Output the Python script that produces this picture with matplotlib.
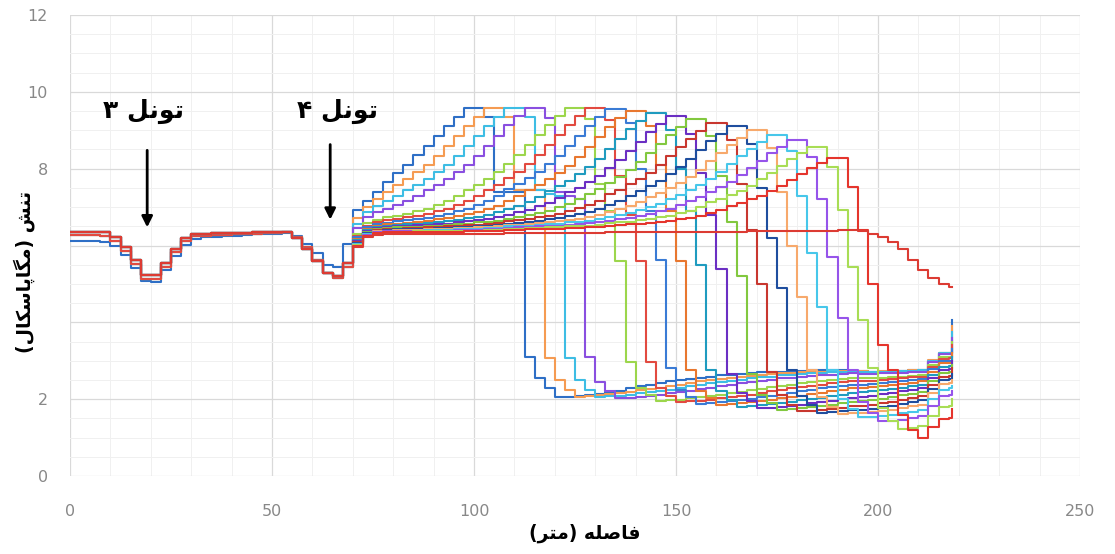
import numpy as np
import matplotlib.pyplot as plt

# mesh positions along the route (m)
x_head = np.arange(0, 70, 2.5)                      # shared part 0 - 67.5
x_tail = np.append(np.arange(70, 218, 2.5), 218.3)  # 70 - 217.5 and last node

# stress over the shared part (tunnel 3 and tunnel 4 dips)
base_red = [6.36, 6.36, 6.36, 6.35, 6.22, 5.95, 5.62, 5.22, 5.22, 5.55,
            5.92, 6.2, 6.3, 6.31, 6.32, 6.32, 6.33, 6.33, 6.34, 6.35,
            6.35, 6.36, 6.2, 5.92, 5.6, 5.28, 5.2, 5.55]
base_mid = [6.27, 6.27, 6.27, 6.26, 6.12, 5.86, 5.52, 5.14, 5.12, 5.45,
            5.82, 6.12, 6.24, 6.26, 6.27, 6.28, 6.29, 6.3, 6.31, 6.32,
            6.33, 6.34, 6.22, 5.95, 5.62, 5.28, 5.16, 5.45]
base_blue = [6.12, 6.12, 6.12, 6.1, 5.98, 5.74, 5.42, 5.08, 5.06, 5.36,
             5.72, 6.02, 6.17, 6.21, 6.23, 6.25, 6.26, 6.28, 6.29, 6.3,
             6.31, 6.32, 6.25, 6.05, 5.8, 5.5, 5.45, 6.05]

# stress from x = 70 on, one list per excavation stage
stage_01 = [6.93, 7.15, 7.4, 7.65, 7.9, 8.1, 8.35, 8.6, 8.85, 9.1,
            9.35, 9.58, 9.58, 9.35, 7.4, 7.4, 7.4, 3.1, 2.55, 2.29,
            2.06, 2.06, 2.08, 2.1, 2.14, 2.18, 2.22, 2.28, 2.33, 2.38,
            2.42, 2.46, 2.5, 2.53, 2.56, 2.59, 2.62, 2.64, 2.66, 2.68,
            2.7, 2.71, 2.72, 2.73, 2.74, 2.75, 2.76, 2.76, 2.75, 2.74,
            2.73, 2.72, 2.72, 2.73, 2.74, 2.75, 2.76, 3.0, 3.2, 3.2, 4.06]
stage_02 = [6.72, 7.0, 7.2, 7.4, 7.58, 7.74, 7.91, 8.1, 8.33, 8.6,
            8.86, 9.12, 9.35, 9.58, 9.58, 9.35, 7.45, 7.45, 7.45, 3.07,
            2.5, 2.24, 2.06, 2.08, 2.1, 2.13, 2.16, 2.19, 2.23, 2.26,
            2.3, 2.34, 2.38, 2.42, 2.46, 2.49, 2.52, 2.55, 2.58, 2.6,
            2.63, 2.65, 2.67, 2.68, 2.7, 2.71, 2.72, 2.73, 2.74, 2.74,
            2.73, 2.72, 2.73, 2.73, 2.74, 2.75, 2.76, 3.01, 3.21, 3.21, 3.9]
stage_03 = [6.56, 6.88, 7.03, 7.15, 7.28, 7.45, 7.58, 7.74, 7.91, 8.1,
            8.33, 8.6, 8.86, 9.12, 9.35, 9.58, 9.58, 9.35, 7.45, 7.35,
            7.3, 3.07, 2.5, 2.25, 2.05, 2.07, 2.09, 2.12, 2.15, 2.18,
            2.22, 2.25, 2.29, 2.33, 2.37, 2.41, 2.45, 2.48, 2.51, 2.54,
            2.57, 2.59, 2.62, 2.64, 2.66, 2.67, 2.69, 2.7, 2.71, 2.72,
            2.71, 2.71, 2.71, 2.72, 2.73, 2.74, 2.75, 3.0, 3.2, 3.2, 3.75]
stage_04 = [6.45, 6.74, 6.87, 6.96, 7.05, 7.15, 7.28, 7.45, 7.58, 7.74,
            7.91, 8.1, 8.33, 8.6, 8.86, 9.14, 9.37, 9.58, 9.58, 9.33,
            7.4, 7.3, 7.2, 3.1, 2.45, 2.2, 2.02, 2.04, 2.06, 2.09,
            2.12, 2.15, 2.19, 2.22, 2.26, 2.3, 2.34, 2.38, 2.42, 2.45,
            2.48, 2.51, 2.54, 2.56, 2.59, 2.61, 2.63, 2.64, 2.66, 2.67,
            2.66, 2.66, 2.67, 2.68, 2.69, 2.7, 2.72, 2.97, 3.17, 3.17, 3.6]
stage_05 = [6.3, 6.58, 6.67, 6.73, 6.78, 6.82, 6.89, 6.96, 7.05, 7.15,
            7.28, 7.45, 7.58, 7.74, 7.91, 8.12, 8.35, 8.62, 8.88, 9.14,
            9.37, 9.58, 9.58, 9.3, 7.6, 6.9, 5.6, 2.97, 2.3, 2.1,
            1.95, 1.97, 1.99, 2.02, 2.05, 2.08, 2.12, 2.15, 2.19, 2.23,
            2.27, 2.31, 2.35, 2.38, 2.41, 2.44, 2.47, 2.49, 2.52, 2.54,
            2.54, 2.55, 2.56, 2.57, 2.59, 2.61, 2.63, 2.89, 3.09, 3.1, 3.5]
stage_06 = [6.25, 6.51, 6.61, 6.66, 6.69, 6.73, 6.77, 6.82, 6.89, 6.95,
            7.05, 7.15, 7.28, 7.44, 7.58, 7.76, 7.92, 8.12, 8.35, 8.61,
            8.87, 9.13, 9.36, 9.57, 9.57, 9.28, 7.8, 6.8, 5.6, 2.97,
            2.3, 2.08, 1.92, 1.94, 1.96, 1.99, 2.02, 2.05, 2.09, 2.12,
            2.16, 2.2, 2.24, 2.28, 2.32, 2.35, 2.38, 2.41, 2.44, 2.46,
            2.47, 2.48, 2.5, 2.52, 2.54, 2.57, 2.59, 2.85, 3.05, 3.06, 3.4]
stage_07 = [6.21, 6.48, 6.56, 6.59, 6.63, 6.66, 6.69, 6.72, 6.77, 6.82,
            6.89, 6.95, 7.05, 7.15, 7.28, 7.46, 7.59, 7.75, 7.91, 8.11,
            8.34, 8.6, 8.86, 9.12, 9.34, 9.55, 9.55, 9.2, 8.0, 6.9,
            5.63, 2.8, 2.25, 2.05, 1.88, 1.9, 1.92, 1.95, 1.98, 2.01,
            2.05, 2.08, 2.12, 2.16, 2.2, 2.24, 2.28, 2.31, 2.34, 2.37,
            2.38, 2.39, 2.42, 2.44, 2.47, 2.5, 2.52, 2.78, 2.99, 3.0, 3.3]
stage_08 = [6.18, 6.44, 6.52, 6.56, 6.57, 6.59, 6.62, 6.65, 6.68, 6.72,
            6.76, 6.81, 6.88, 6.94, 7.04, 7.15, 7.28, 7.44, 7.57, 7.73,
            7.89, 8.08, 8.3, 8.56, 8.82, 9.09, 9.32, 9.5, 9.5, 9.1,
            8.1, 6.9, 5.6, 2.75, 2.22, 2.02, 1.85, 1.87, 1.89, 1.92,
            1.95, 1.98, 2.02, 2.05, 2.09, 2.13, 2.17, 2.21, 2.25, 2.28,
            2.29, 2.31, 2.34, 2.36, 2.4, 2.43, 2.46, 2.72, 2.93, 2.94, 3.2]
stage_09 = [6.14, 6.41, 6.48, 6.52, 6.53, 6.55, 6.57, 6.58, 6.61, 6.64,
            6.67, 6.71, 6.75, 6.8, 6.86, 6.94, 7.04, 7.13, 7.26, 7.41,
            7.54, 7.69, 7.85, 8.04, 8.26, 8.52, 8.77, 9.02, 9.24, 9.45,
            9.45, 9.0, 8.0, 6.9, 5.5, 2.75, 2.2, 1.98, 1.8, 1.82,
            1.84, 1.87, 1.9, 1.93, 1.97, 2.0, 2.04, 2.08, 2.12, 2.16,
            2.18, 2.2, 2.23, 2.26, 2.3, 2.33, 2.37, 2.64, 2.85, 2.86, 3.1]
stage_10 = [6.12, 6.38, 6.45, 6.48, 6.5, 6.51, 6.53, 6.54, 6.56, 6.57,
            6.6, 6.63, 6.66, 6.69, 6.74, 6.8, 6.87, 6.93, 7.02, 7.11,
            7.23, 7.38, 7.5, 7.65, 7.8, 8.01, 8.22, 8.46, 8.7, 8.95,
            9.16, 9.38, 9.38, 8.9, 7.9, 6.8, 5.4, 2.65, 2.15, 1.94,
            1.76, 1.78, 1.8, 1.83, 1.86, 1.89, 1.93, 1.96, 2.0, 2.04,
            2.06, 2.09, 2.13, 2.16, 2.2, 2.24, 2.28, 2.55, 2.77, 2.79, 3.0]
stage_11 = [6.09, 6.35, 6.42, 6.45, 6.47, 6.48, 6.49, 6.51, 6.52, 6.54,
            6.55, 6.57, 6.6, 6.62, 6.65, 6.7, 6.75, 6.79, 6.85, 6.91,
            7.0, 7.09, 7.21, 7.35, 7.47, 7.64, 7.79, 7.96, 8.17, 8.41,
            8.64, 8.88, 9.08, 9.3, 9.3, 8.85, 7.8, 6.6, 5.2, 2.65,
            2.12, 1.9, 1.72, 1.74, 1.76, 1.79, 1.82, 1.85, 1.89, 1.92,
            1.94, 1.97, 2.01, 2.05, 2.1, 2.14, 2.19, 2.47, 2.69, 2.71, 2.9]
stage_12 = [6.08, 6.33, 6.4, 6.43, 6.44, 6.45, 6.46, 6.47, 6.48, 6.5,
            6.51, 6.53, 6.54, 6.56, 6.58, 6.63, 6.66, 6.69, 6.73, 6.77,
            6.83, 6.89, 6.97, 7.06, 7.17, 7.33, 7.45, 7.59, 7.73, 7.9,
            8.1, 8.33, 8.56, 8.78, 8.98, 9.2, 9.2, 8.75, 7.6, 6.4,
            5.0, 2.7, 2.1, 1.86, 1.68, 1.7, 1.72, 1.75, 1.78, 1.81,
            1.83, 1.85, 1.89, 1.93, 1.98, 2.03, 2.08, 2.36, 2.59, 2.61, 2.8]
stage_13 = [6.06, 6.32, 6.38, 6.41, 6.42, 6.42, 6.43, 6.44, 6.45, 6.46,
            6.48, 6.49, 6.51, 6.52, 6.53, 6.57, 6.59, 6.62, 6.65, 6.68,
            6.72, 6.76, 6.81, 6.87, 6.95, 7.05, 7.16, 7.3, 7.41, 7.55,
            7.68, 7.85, 8.04, 8.26, 8.48, 8.72, 8.91, 9.1, 9.1, 8.65,
            7.5, 6.2, 4.9, 2.75, 2.08, 1.84, 1.65, 1.67, 1.69, 1.72,
            1.73, 1.75, 1.79, 1.82, 1.87, 1.92, 1.97, 2.26, 2.49, 2.52, 2.65]
stage_14 = [6.05, 6.3, 6.37, 6.39, 6.4, 6.41, 6.41, 6.42, 6.43, 6.44,
            6.45, 6.46, 6.47, 6.48, 6.5, 6.53, 6.54, 6.56, 6.58, 6.61,
            6.64, 6.66, 6.7, 6.74, 6.79, 6.87, 6.94, 7.02, 7.13, 7.26,
            7.37, 7.5, 7.63, 7.79, 7.97, 8.2, 8.41, 8.62, 8.81, 9.0,
            9.0, 8.55, 7.4, 6.0, 4.66, 2.76, 2.05, 1.8, 1.62, 1.64,
            1.64, 1.66, 1.69, 1.72, 1.77, 1.81, 1.86, 2.15, 2.39, 2.42, 2.5]
stage_15 = [6.04, 6.29, 6.36, 6.38, 6.38, 6.39, 6.39, 6.4, 6.41, 6.41,
            6.42, 6.43, 6.44, 6.45, 6.46, 6.5, 6.51, 6.52, 6.53, 6.55,
            6.57, 6.6, 6.62, 6.65, 6.68, 6.74, 6.79, 6.84, 6.92, 6.99,
            7.09, 7.22, 7.32, 7.44, 7.57, 7.74, 7.92, 8.12, 8.32, 8.52,
            8.69, 8.88, 8.88, 8.45, 7.3, 5.8, 4.4, 2.76, 2.0, 1.74,
            1.53, 1.54, 1.56, 1.59, 1.63, 1.67, 1.72, 2.01, 2.25, 2.28, 2.35]
stage_16 = [6.02, 6.28, 6.34, 6.37, 6.37, 6.37, 6.38, 6.38, 6.39, 6.39,
            6.4, 6.41, 6.41, 6.42, 6.43, 6.46, 6.47, 6.49, 6.5, 6.51,
            6.52, 6.53, 6.56, 6.58, 6.6, 6.65, 6.68, 6.72, 6.77, 6.81,
            6.89, 6.96, 7.05, 7.17, 7.26, 7.4, 7.52, 7.66, 7.83, 8.02,
            8.21, 8.4, 8.56, 8.75, 8.75, 8.3, 7.2, 5.7, 4.1, 2.76,
            1.92, 1.65, 1.42, 1.44, 1.47, 1.51, 1.55, 1.83, 2.07, 2.1, 2.2]
stage_17 = [6.01, 6.26, 6.33, 6.35, 6.36, 6.36, 6.37, 6.37, 6.37, 6.38,
            6.38, 6.39, 6.39, 6.4, 6.41, 6.43, 6.44, 6.45, 6.46, 6.47,
            6.48, 6.5, 6.51, 6.52, 6.54, 6.58, 6.6, 6.62, 6.66, 6.69,
            6.73, 6.78, 6.84, 6.91, 7.0, 7.13, 7.21, 7.32, 7.43, 7.56,
            7.72, 7.89, 8.07, 8.26, 8.42, 8.57, 8.57, 8.05, 6.93, 5.44,
            4.06, 2.8, 1.77, 1.42, 1.23, 1.26, 1.29, 1.57, 1.79, 1.83, 2.0]
stage_18 = [6.0, 6.25, 6.32, 6.34, 6.34, 6.35, 6.35, 6.35, 6.36, 6.36,
            6.36, 6.37, 6.37, 6.38, 6.38, 6.41, 6.41, 6.42, 6.43, 6.43,
            6.44, 6.45, 6.46, 6.47, 6.48, 6.51, 6.53, 6.55, 6.57, 6.59,
            6.62, 6.64, 6.68, 6.72, 6.78, 6.85, 6.93, 7.03, 7.1, 7.2,
            7.29, 7.41, 7.54, 7.71, 7.86, 8.01, 8.15, 8.28, 8.28, 7.53,
            6.4, 5.0, 3.4, 2.76, 1.58, 1.19, 1.0, 1.27, 1.48, 1.52, 1.75]
stage_00 = [5.97, 6.22, 6.28, 6.29, 6.3, 6.3, 6.3, 6.3, 6.3, 6.3,
            6.31, 6.31, 6.31, 6.31, 6.31, 6.32, 6.32, 6.32, 6.32, 6.32,
            6.32, 6.32, 6.33, 6.33, 6.33, 6.34, 6.34, 6.34, 6.34, 6.34,
            6.35, 6.35, 6.35, 6.35, 6.35, 6.36, 6.36, 6.36, 6.36, 6.37,
            6.37, 6.37, 6.37, 6.38, 6.38, 6.38, 6.39, 6.39, 6.4, 6.4,
            6.38, 6.3, 6.22, 6.1, 5.9, 5.63, 5.36, 5.15, 5.0, 4.92, 4.92]

stages = [stage_01, stage_02, stage_03, stage_04, stage_05, stage_06,
          stage_07, stage_08, stage_09, stage_10, stage_11, stage_12,
          stage_13, stage_14, stage_15, stage_16, stage_17, stage_18, stage_00]
heads = [base_blue] + [base_mid] * 5 + [base_red] * 13
colors = ['#2E6FC6', '#F59B52', '#3EBDE4', '#8A4FE0', '#9CD64C', '#E24A40',
          '#3A7BD5', '#E8772F', '#1F9BBF', '#6B2FC3', '#82C83F', '#C8372F',
          '#1F4E9E', '#F7A96C', '#47C7EA', '#9654EA', '#A8DD55', '#E5352D',
          '#DC3B33']

for s in stages:
    assert len(s) == len(x_tail), len(s)

# Persian labels, written in visual order with presentation forms
label_t3 = '\u06F3 \uFEDE\uFEE7\uFEEE\uFE97'          # tunnel 3
label_t4 = '\u06F4 \uFEDE\uFEE7\uFEEE\uFE97'          # tunnel 4
label_x = '(\uFEAE\uFE98\uFEE3) \uFEEA\uFEE0\uFEBB\uFE8E\uFED3'
label_y = ('(\uFEDD\uFE8E\uFB91\uFEB3\uFE8E\uFB58\uFE8E\uFB95\uFEE3) '
           '\uFEB6\uFEE8\uFE97')

fig = plt.figure(figsize=(11.15, 5.54), dpi=100)
ax = fig.add_axes([0.0628, 0.1408, 0.9058, 0.8321])

x_all = np.concatenate([x_head, x_tail])
for head, vals, col in zip(heads, stages, colors):
    ax.step(x_all, head + vals, where='post', color=col, lw=1.5)

ax.set_xlim(0, 250)
ax.set_ylim(0, 12)
ax.set_xticks(np.arange(0, 251, 50))
ax.set_xticks(np.arange(0, 251, 10), minor=True)
ax.set_yticks(np.arange(0, 13, 2))
ax.set_yticks(np.arange(0, 12.1, 0.5), minor=True)
ax.set_yticklabels(['0', '2', '', '', '8', '10', '12'])
ax.grid(which='major', color='#D9D9D9', lw=0.9)
ax.grid(which='minor', color='#F0F0F0', lw=0.7)
ax.set_axisbelow(True)
for sp in ax.spines.values():
    sp.set_visible(False)
ax.tick_params(which='both', length=0)
ax.tick_params(axis='x', pad=20, labelsize=11.5, labelcolor='#888888')
ax.tick_params(axis='y', pad=16, labelsize=11.5, labelcolor='#888888')

# tunnel markers
ax.text(18.3, 9.5, label_t3, ha='center', va='center', fontsize=18,
        fontweight='bold', family='DejaVu Sans')
ax.text(66.1, 9.5, label_t4, ha='center', va='center', fontsize=18,
        fontweight='bold', family='DejaVu Sans')
ax.annotate('', xy=(19.1, 6.4), xytext=(19.1, 8.55),
            arrowprops=dict(arrowstyle='-|>', color='black', lw=2, mutation_scale=16))
ax.annotate('', xy=(64.4, 6.6), xytext=(64.4, 8.7),
            arrowprops=dict(arrowstyle='-|>', color='black', lw=2, mutation_scale=16))

fig.text(0.5247, 0.038, label_x, ha='center', va='center', fontsize=13.5,
         fontweight='bold', family='DejaVu Sans')
fig.text(0.0215, 0.509, label_y, ha='center', va='center', fontsize=13.5,
         fontweight='bold', family='DejaVu Sans', rotation=90)

fig.savefig('out.png', dpi=100)
plt.close(fig)
